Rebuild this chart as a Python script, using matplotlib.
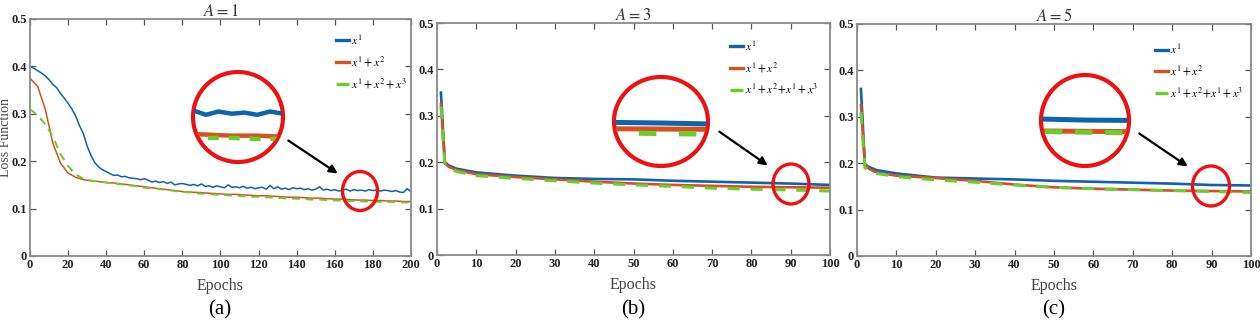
import matplotlib
matplotlib.use("Agg")
import matplotlib.pyplot as plt
from matplotlib.patches import Ellipse, FancyArrowPatch
import numpy as np

plt.rcParams['font.family'] = ['Liberation Serif', 'DejaVu Serif']
plt.rcParams['mathtext.fontset'] = 'stix'

# ---------------- data ----------------
# Panel (a): A = 1
epochs_a_blue = list(range(0, 201, 2))
a_x1 = [0.400, 0.396, 0.391, 0.386, 0.380, 0.372, 0.362, 0.355, 0.343, 0.333,
        0.322, 0.310, 0.295, 0.275, 0.258, 0.232, 0.212, 0.197, 0.188, 0.182,
        0.178, 0.174, 0.170, 0.171, 0.167, 0.168, 0.165, 0.164, 0.163, 0.161,
        0.163, 0.160, 0.156, 0.158, 0.155, 0.157, 0.153, 0.156, 0.150, 0.152,
        0.153, 0.151, 0.149, 0.151, 0.148, 0.152, 0.147, 0.148, 0.145, 0.148,
        0.146, 0.144, 0.150, 0.145, 0.146, 0.144, 0.147, 0.143, 0.145, 0.142,
        0.144, 0.145, 0.141, 0.149, 0.142, 0.146, 0.141, 0.143, 0.140, 0.144,
        0.142, 0.143, 0.140, 0.142, 0.139, 0.141, 0.146, 0.139, 0.141, 0.138,
        0.140, 0.137, 0.139, 0.141, 0.137, 0.140, 0.138, 0.139, 0.137, 0.140,
        0.138, 0.139, 0.137, 0.139, 0.138, 0.136, 0.138, 0.135, 0.134, 0.142,
        0.136]
epochs_a = list(range(0, 201, 4))
a_x12 = [0.375, 0.358, 0.310, 0.238, 0.196, 0.175, 0.166, 0.161, 0.159, 0.157,
         0.155, 0.154, 0.152, 0.150, 0.148, 0.146, 0.144, 0.142, 0.140, 0.138,
         0.136, 0.135, 0.134, 0.133, 0.132, 0.131, 0.130, 0.130, 0.129, 0.128,
         0.127, 0.127, 0.126, 0.125, 0.124, 0.124, 0.123, 0.122, 0.122, 0.121,
         0.120, 0.120, 0.119, 0.118, 0.118, 0.117, 0.117, 0.116, 0.116, 0.115,
         0.115]
a_x123 = [0.310, 0.297, 0.278, 0.252, 0.215, 0.190, 0.172, 0.163, 0.159, 0.157,
          0.155, 0.153, 0.151, 0.149, 0.147, 0.144, 0.143, 0.141, 0.139, 0.137,
          0.135, 0.134, 0.132, 0.131, 0.130, 0.129, 0.128, 0.127, 0.126, 0.125,
          0.125, 0.124, 0.123, 0.122, 0.121, 0.121, 0.120, 0.119, 0.119, 0.118,
          0.117, 0.117, 0.116, 0.116, 0.115, 0.115, 0.114, 0.114, 0.114, 0.113,
          0.113]

# Panels (b) and (c)
epochs_bc = [1, 2, 3, 5, 10, 20, 30, 40, 50, 60, 70, 80, 90, 100]
b_x1 = [0.350, 0.200, 0.193, 0.186, 0.178, 0.171, 0.166, 0.164, 0.163, 0.160, 0.158, 0.156, 0.154, 0.151]
b_x12 = [0.325, 0.198, 0.190, 0.183, 0.174, 0.168, 0.163, 0.158, 0.154, 0.151, 0.149, 0.147, 0.146, 0.145]
b_x123 = [0.320, 0.195, 0.187, 0.180, 0.171, 0.165, 0.160, 0.155, 0.151, 0.148, 0.144, 0.142, 0.140, 0.138]

c_x1 = [0.360, 0.198, 0.192, 0.185, 0.178, 0.169, 0.167, 0.165, 0.162, 0.160, 0.158, 0.156, 0.153, 0.152]
c_x12 = [0.325, 0.197, 0.188, 0.180, 0.173, 0.168, 0.162, 0.154, 0.148, 0.145, 0.143, 0.141, 0.140, 0.139]
c_x123 = [0.310, 0.190, 0.184, 0.178, 0.171, 0.164, 0.159, 0.153, 0.148, 0.145, 0.143, 0.141, 0.139, 0.137]

titles = [r'$A = 1$', r'$A = 3$', r'$A = 5$']
panel_labels = ['(a)', '(b)', '(c)']
legend_a = [r'$x^1$', r'$x^1+x^2$', r'$x^1+x^2+x^3$']
legend_bc = [r'$x^1$', r'$x^1+x^2$', r'$x^1+x^2\!+\!x^1+x^3$']

BLUE = '#0F62B0'
RED = '#D4521E'
GREEN = '#6CCB2E'
W, H = 1260, 336

fig = plt.figure(figsize=(W / 100, H / 100), dpi=100)


def fr(x0, y0, x1, y1):
    """pixel box (top-left origin) -> figure fraction rect"""
    return [x0 / W, 1 - y1 / H, (x1 - x0) / W, (y1 - y0) / H]


axes_px = [(30, 19, 411, 256), (437, 23, 830, 255), (857, 24, 1251, 256)]
axs = [fig.add_axes(fr(*p)) for p in axes_px]

series = [
    ((epochs_a_blue, a_x1), (epochs_a, a_x12), (epochs_a, a_x123)),
    ((epochs_bc, b_x1), (epochs_bc, b_x12), (epochs_bc, b_x123)),
    ((epochs_bc, c_x1), (epochs_bc, c_x12), (epochs_bc, c_x123)),
]
lws = [1.1, 1.9, 1.9]
dashes = [(4, 3), (4, 3.5), (4, 3.5)]
xlims = [(0, 200), (0, 100), (0, 100)]
xsteps = [20, 10, 10]
legs = [legend_a, legend_bc, legend_bc]
leg_anchor = [(0.79, 0.96), (0.735, 0.95), (0.745, 0.94)]
leg_fs = [8.6, 8.3, 8.3]
label_x = [220, 633, 1054]

for i, ax in enumerate(axs):
    (ex1, y1), (ex2, y2), (ex3, y3) = series[i]
    ax.plot(ex1, y1, color=BLUE, lw=lws[i], label=legs[i][0])
    ax.plot(ex2, y2, color=RED, lw=lws[i], label=legs[i][1])
    ax.plot(ex3, y3, color=GREEN, lw=lws[i] + 0.3, dashes=dashes[i], label=legs[i][2])
    ax.set_xlim(*xlims[i])
    ax.set_ylim(0, 0.5)
    ax.set_xticks(np.arange(xlims[i][0], xlims[i][1] + 1, xsteps[i]))
    ax.set_yticks([0, 0.1, 0.2, 0.3, 0.4, 0.5])
    ax.set_yticklabels(['0', '0.1', '0.2', '0.3', '0.4', '0.5'])
    ax.tick_params(direction='in', top=True, right=True, length=4, width=0.9,
                   colors='#555555', labelcolor='#222222', labelsize=9, pad=2.5)
    for lab in ax.get_xticklabels() + ax.get_yticklabels():
        lab.set_fontweight('bold')
    for s in ax.spines.values():
        s.set_color('#8a8a8a')
        s.set_linewidth(1.3)
    ax.set_title(titles[i], fontsize=12, pad=2, color='#333333')
    ax.set_xlabel('Epochs', fontsize=11.5, labelpad=5, color='#444444')
    fig.text(label_x[i] / W, 1 - 310 / H, panel_labels[i], ha='center',
             va='center', fontsize=15)
    leg = ax.legend(loc='upper left', bbox_to_anchor=leg_anchor[i], frameon=False,
                    fontsize=leg_fs[i], handlelength=1.1, handletextpad=0.15,
                    labelspacing=0.65, borderaxespad=0)
    for lh in leg.get_lines():
        lh.set_linewidth(2.4)

axs[0].set_ylabel('Loss Function', fontsize=10, color='#444444')
axs[0].yaxis.set_label_coords(-0.048, 0.5)

# ---------------- zoom insets with circles and arrows ----------------
insets = [
    dict(box=(193, 72, 283, 162), xlim=(166, 180), ylim=(0.094, 0.176),
         small=(360, 191, 35, 39), arrow=((286, 139), (340, 175)), lw=3.2, dash=(2.5, 2.2)),
    dict(box=(614, 77, 708, 166), xlim=(86, 94), ylim=(0.097, 0.215),
         small=(791, 184, 36, 40), arrow=((717, 130), (770, 167)), lw=3.6, dash=(3.5, 4.5)),
    dict(box=(1041, 75, 1129, 166), xlim=(86, 94), ylim=(0.100, 0.205),
         small=(1211, 186, 37, 40), arrow=((1137, 132), (1190, 168)), lw=3.6, dash=(3.5, 2.5)),
]

for i, ins in enumerate(insets):
    iax = fig.add_axes(fr(*ins['box']))
    iax.set_axis_off()
    iax.set_xlim(*ins['xlim'])
    iax.set_ylim(*ins['ylim'])
    clip = Ellipse((0.5, 0.5), 0.97, 0.97, transform=iax.transAxes, facecolor='none',
                   edgecolor='none')
    iax.add_patch(clip)
    (ex1, y1), (ex2, y2), (ex3, y3) = series[i]
    l1, = iax.plot(ex1, y1, color=BLUE, lw=ins['lw'])
    l2, = iax.plot(ex2, y2, color=RED, lw=ins['lw'])
    l3, = iax.plot(ex3, y3, color=GREEN, lw=ins['lw'], dashes=ins['dash'])
    for ln in (l1, l2, l3):
        ln.set_clip_path(clip)
    ring = Ellipse((0.5, 0.5), 1.0, 1.0, transform=iax.transAxes, facecolor='none',
                   edgecolor='#EE1111', lw=3.0, clip_on=False)
    iax.add_patch(ring)

    cx, cy, cw, ch = ins['small']
    fig.patches.append(Ellipse((cx / W, 1 - cy / H), cw / W, ch / H,
                               transform=fig.transFigure, facecolor='none',
                               edgecolor='#EE1111', lw=2.4))
    (sx, sy), (tx, ty) = ins['arrow']
    fig.add_artist(FancyArrowPatch(
        (sx / W, 1 - sy / H), (tx / W, 1 - ty / H), transform=fig.transFigure,
        arrowstyle='-|>', mutation_scale=12, color='black', lw=1.6))

fig.savefig('out.png', dpi=100)
